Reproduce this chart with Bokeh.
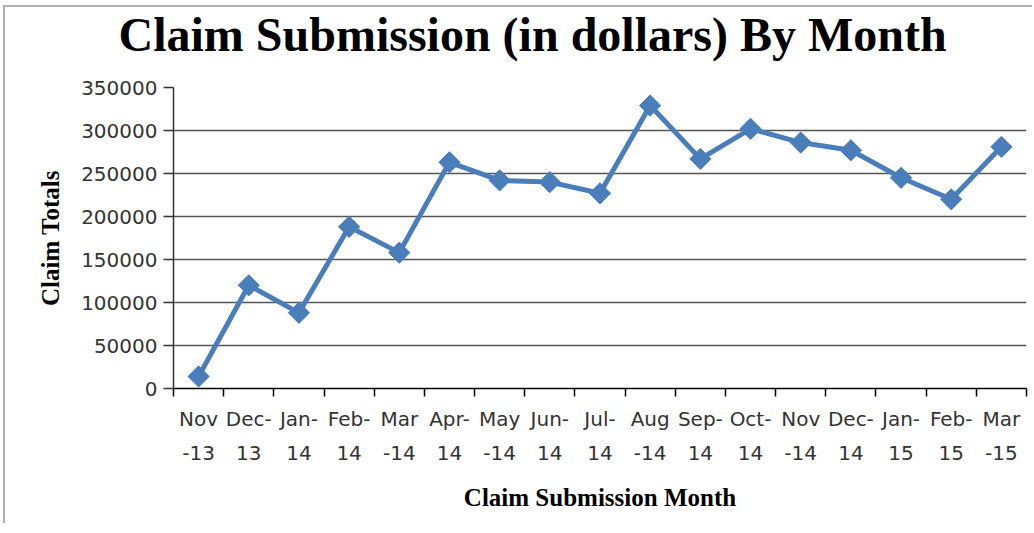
import numpy as np
from bokeh.plotting import figure
from bokeh.models import FixedTicker, Range1d, Title, ColumnDataSource
from bokeh.embed import file_html
from bokeh.resources import INLINE

months = ["Nov\n-13", "Dec-\n13", "Jan-\n14", "Feb-\n14", "Mar\n-14", "Apr-\n14", "May\n-14", "Jun-\n14",
          "Jul-\n14", "Aug\n-14", "Sep-\n14", "Oct-\n14", "Nov\n-14", "Dec-\n14", "Jan-\n15", "Feb-\n15", "Mar\n-15"]
claims = [14000, 120000, 88000, 188000, 158000, 263000, 242000, 240000,
          227000, 329000, 267000, 302000, 286000, 277000, 245000, 220000, 281000]
y_ticks = [0, 50000, 100000, 150000, 200000, 250000, 300000, 350000]

n = len(months)
xs = [i + 0.5 for i in range(n)]
src = ColumnDataSource(dict(x=xs, y=claims))

p = figure(width=1029, height=518, output_backend="svg", toolbar_location=None,
           x_range=Range1d(0, n), y_range=Range1d(0, 350000),
           min_border_left=168, min_border_right=8, min_border_top=80, min_border_bottom=137)
p.styles = {"border-left": "2px solid #b0b0b0", "border-top": "2px solid #b0b0b0",
            "margin-left": "3px", "margin-top": "5px"}
p.background_fill_color = "white"
p.border_fill_color = "white"
p.outline_line_color = None

# spacer between the title and the plot area
p.add_layout(Title(text=" ", text_font_size="10px", standoff=12), "above")
title = Title(text="Claim Submission (in dollars) By Month", align="left", offset=-55,
              vertical_align="top", standoff=0,
              text_font="Liberation Serif", text_font_size="48px", text_font_style="bold",
              text_color="black")
p.add_layout(title, "above")

# x axis
p.xaxis.ticker = FixedTicker(ticks=xs, minor_ticks=list(range(n + 1)))
p.xaxis.major_label_overrides = {x: m for x, m in zip(xs, months)}
p.xaxis.major_tick_line_color = None
p.xaxis.minor_tick_line_color = "black"
p.xaxis.minor_tick_line_width = 1.5
p.xaxis.minor_tick_in = 0
p.xaxis.minor_tick_out = 8
p.xaxis.axis_line_color = "black"
p.xaxis.axis_line_width = 1.5
p.xaxis.major_label_text_font = "DejaVu Sans"
p.xaxis.major_label_text_font_size = "20px"
p.xaxis.major_label_text_color = "#333333"
p.xaxis.major_label_text_line_height = 1.45
p.xaxis.major_label_standoff = 10
p.xaxis.axis_label = "Claim Submission Month"
p.xaxis.axis_label_text_font = "Liberation Serif"
p.xaxis.axis_label_text_font_style = "bold"
p.xaxis.axis_label_text_font_size = "25px"
p.xaxis.axis_label_text_color = "black"
p.xaxis.axis_label_standoff = 16

# y axis
p.yaxis.ticker = FixedTicker(ticks=y_ticks)
p.yaxis.formatter.use_scientific = False
p.yaxis.minor_tick_line_color = None
p.yaxis.major_tick_in = 0
p.yaxis.major_tick_out = 10
p.yaxis.major_tick_line_color = "#333333"
p.yaxis.major_tick_line_width = 1.5
p.yaxis.axis_line_color = "#333333"
p.yaxis.axis_line_width = 1.5
p.yaxis.major_label_text_font = "DejaVu Sans"
p.yaxis.major_label_text_font_size = "20px"
p.yaxis.major_label_text_color = "#333333"
p.yaxis.major_label_standoff = 6
p.yaxis.axis_label = "Claim Totals"
p.yaxis.axis_label_text_font = "Liberation Serif"
p.yaxis.axis_label_text_font_style = "bold"
p.yaxis.axis_label_text_font_size = "25px"
p.yaxis.axis_label_text_color = "black"
p.yaxis.axis_label_standoff = 14

p.xgrid.grid_line_color = None
p.ygrid.ticker = FixedTicker(ticks=y_ticks)
p.ygrid.grid_line_color = "#555555"
p.ygrid.grid_line_width = 1.6

p.line("x", "y", source=src, line_color="#4a7ebb", line_width=5)
p.scatter("x", "y", source=src, marker="square", angle=np.pi / 4, size=15,
          fill_color="#4a7ebb", line_color="#4a7ebb")

open("out.html", "w").write(file_html(p, INLINE))
